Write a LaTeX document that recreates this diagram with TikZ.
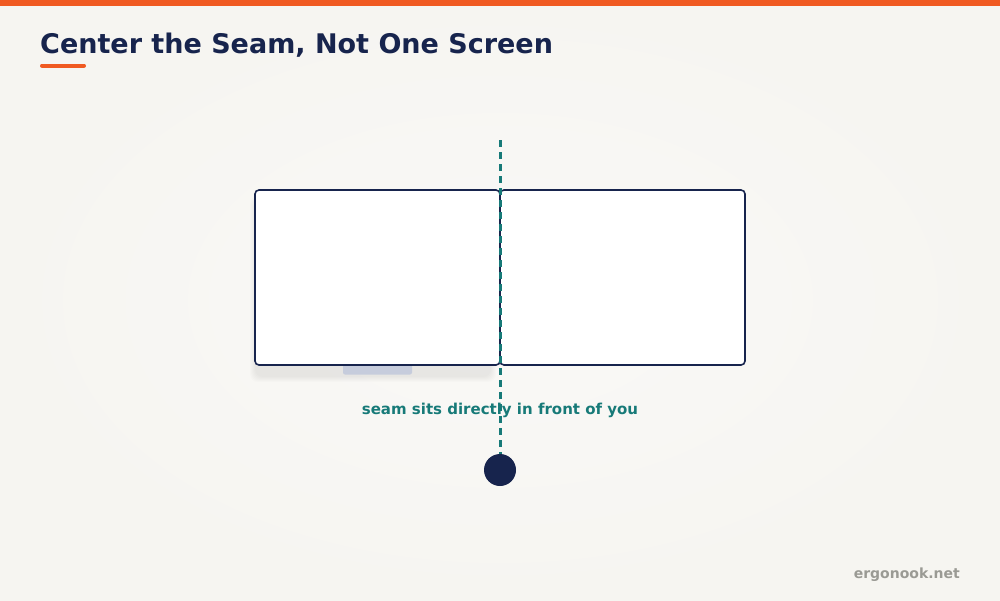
\documentclass[tikz,border=0pt]{standalone}
\usepackage{fontspec}
\setmainfont{DejaVu Sans}
\definecolor{bgc}{HTML}{F6F5F1}
\definecolor{bgin}{HTML}{FAF9F7}
\definecolor{accent}{HTML}{F05A22}
\definecolor{navy}{HTML}{17244D}
\definecolor{teal}{HTML}{177A78}
\definecolor{standc}{HTML}{C6CCDC}
\definecolor{footc}{HTML}{9A9A94}
\begin{document}
\begin{tikzpicture}[x=1pt,y=-1pt,
  screenbox/.style={draw=navy,line width=1.6pt,fill=white,rounded corners=4pt,minimum width=245pt,minimum height=175pt,inner sep=0pt},
  seamline/.style={draw=teal,line width=3pt,dash pattern=on 7pt off 5pt},
  titletext/.style={font=\bfseries\fontsize{27}{31}\selectfont,text=navy,anchor=base west,inner sep=0pt},
]
\useasboundingbox (0,0) rectangle (1000,600);
\fill[bgc] (0,0) rectangle (1000,600);
\shade[inner color=bgin,outer color=bgc] (0,0) rectangle (1000,600);
\fill[accent] (0,0) rectangle (1000,5.5);
\node[titletext] (title) at (40,53) {Center the Seam, Not One Screen};
\draw[accent,line width=4pt,line cap=round] (42,65.5) -- (84,65.5);
% soft shadow
\foreach \i in {0,...,5}{
  \fill[black,opacity=0.012,rounded corners=8pt] (250+\i,196+\i) rectangle (496-\i,382-\i);
}
\node[fill=standc,rounded corners=2pt,minimum width=69pt,minimum height=10pt,inner sep=0pt] (stand) at (377.5,369.5) {};
\node[screenbox] (left) at (377.5,277.5) {};
\node[screenbox] (right) at (622.5,277.5) {};
\node[font=\bfseries\fontsize{15}{18}\selectfont,text=teal,inner sep=0pt] (label) at (500,410) {seam sits directly in front of you};
\node[circle,fill=navy,minimum size=32pt,inner sep=0pt] (you) at (500,470) {};
\coordinate (top) at (500,140);
\draw[seamline] (top) -- (you.north);
\node[font=\bfseries\fontsize{14}{17}\selectfont,text=footc,anchor=base east,inner sep=0pt] (foot) at (960,578) {ergonook.net};
\end{tikzpicture}
\end{document}
